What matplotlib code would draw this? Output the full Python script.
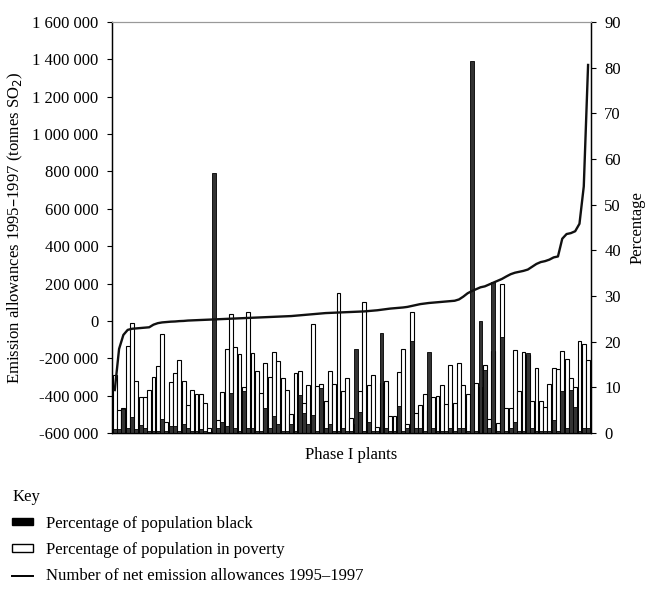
import matplotlib
matplotlib.use("Agg")
import matplotlib.pyplot as plt
import numpy as np
from matplotlib.patches import Patch
from matplotlib.lines import Line2D
from matplotlib.ticker import FuncFormatter, MultipleLocator

plt.rcParams['font.family'] = ['Liberation Serif', 'DejaVu Serif']
plt.rcParams['font.size'] = 12

# percentage of population in poverty, per Phase I plant
poverty = [12.7, 5.0, 5.5, 19.0, 24.0, 11.4, 7.9, 7.9, 9.4, 12.3,
           14.7, 21.7, 2.4, 11.2, 13.1, 16.0, 11.4, 6.1, 9.4, 8.5,
           8.5, 6.6, 1.2, 0.5, 2.9, 9.0, 18.4, 26.0, 18.8, 17.3,
           10.0, 26.5, 17.5, 13.6, 8.8, 15.3, 12.3, 17.7, 15.8, 12.0,
           9.4, 4.2, 13.1, 13.6, 6.6, 10.5, 23.9, 10.2, 10.7, 7.0,
           13.6, 10.7, 30.7, 9.2, 12.0, 3.3, 2.0, 9.2, 28.7, 10.5,
           12.7, 1.3, 11.0, 11.4, 3.7, 3.7, 13.4, 18.4, 2.0, 26.5,
           4.4, 6.1, 8.5, 5.0, 7.9, 8.2, 10.5, 6.4, 14.9, 6.6,
           15.3, 10.5, 8.6, 2.0, 11.0, 10.0, 14.9, 3.0, 18.0, 2.2,
           32.6, 5.5, 5.5, 18.2, 9.2, 17.7, 17.0, 7.0, 14.2, 7.0,
           5.7, 10.7, 14.2, 14.0, 17.9, 16.2, 12.0, 10.0, 20.2, 19.5,
           16.0]

# percentage of population black
black = [0.8, 0.8, 5.2, 1.2, 3.5, 0.8, 1.7, 1.0, 0.5, 0.5,
         0.5, 3.0, 0.5, 1.5, 1.5, 0.5, 2.0, 1.0, 0.5, 0.5,
         0.8, 0.5, 0.3, 57.0, 1.0, 2.4, 1.5, 8.8, 1.0, 0.5,
         9.2, 1.0, 1.0, 0.5, 0.5, 5.5, 1.0, 3.7, 2.0, 0.5,
         0.5, 2.0, 0.5, 8.3, 4.4, 2.0, 4.0, 0.5, 9.9, 1.0,
         2.0, 0.5, 0.5, 1.0, 0.5, 0.5, 18.4, 4.6, 0.5, 2.4,
         0.5, 0.5, 21.9, 1.0, 0.5, 0.5, 5.9, 0.5, 1.0, 20.2,
         1.0, 1.0, 0.5, 17.7, 1.0, 0.5, 0.5, 0.5, 1.0, 0.5,
         1.0, 1.0, 0.5, 81.5, 0.5, 24.5, 13.8, 1.0, 33.0, 0.5,
         21.0, 0.5, 1.0, 2.5, 0.5, 0.5, 17.5, 1.0, 0.5, 0.5,
         0.5, 0.5, 2.8, 0.5, 9.2, 1.0, 9.4, 5.7, 0.5, 1.0,
         1.0]

# net emission allowances 1995-1997, thousand tonnes SO2 (sorted)
allowances_k = [-370, -150, -75, -48, -42, -40, -38, -36, -34, -20,
                -12, -8, -6, -4, -3, -1, 0, 2, 3, 4,
                5, 6, 7, 8, 9, 10, 11, 12, 13, 14,
                15, 16, 17, 18, 19, 20, 21, 22, 23, 24,
                25, 26, 28, 30, 32, 34, 36, 38, 40, 42,
                43, 44, 45, 46, 47, 48, 49, 50, 51, 53,
                55, 57, 60, 63, 66, 68, 70, 72, 75, 80,
                85, 90, 93, 96, 98, 100, 102, 104, 106, 108,
                115, 130, 148, 160, 170, 180, 185, 195, 205, 215,
                225, 238, 250, 258, 263, 268, 275, 290, 305, 315,
                320, 328, 340, 345, 440, 465, 470, 480, 520, 720,
                1370]

x = np.arange(len(poverty))
allowances = np.array(allowances_k) * 1000

fig = plt.figure(figsize=(6.46, 5.91), dpi=100)
ax = fig.add_axes([0.173, 0.2673, 0.742, 0.6955])

ax.bar(x, poverty, width=0.9, color='white', edgecolor='black', linewidth=0.8, zorder=2)
ax.bar(x, black, width=0.9, color='#333333', edgecolor='black', linewidth=0.6, zorder=3)
ax.set_ylim(0, 90)
ax.set_xlim(-0.7, len(x) - 0.3)
ax.set_xticks([])
ax.set_xlabel('Phase I plants', labelpad=10)

ax2 = ax.twinx()
ax2.plot(x, allowances, color='#111111', linewidth=1.7, zorder=5)
ax2.set_ylim(-600000, 1600000)
ax2.yaxis.set_major_locator(MultipleLocator(200000))
ax2.yaxis.set_major_formatter(FuncFormatter(lambda v, p: f'{int(v):,}'.replace(',', ' ')))
ax2.yaxis.tick_left()
ax2.yaxis.set_label_position('left')
ax2.set_ylabel('Emission allowances 1995\u20131997 (tonnes SO$_2$)', labelpad=5)

# twinx moves the original ticks to the left, so put them back on the right
ax.yaxis.tick_right()
ax.yaxis.set_label_position('right')
ax.yaxis.set_major_locator(MultipleLocator(10))
ax.set_ylabel('Percentage', labelpad=6)

for a in (ax, ax2):
    a.spines['top'].set_color('#999999')
    a.tick_params(axis='y', direction='out', length=3.5, width=0.8, pad=6, labelsize=12)
    a.spines['left'].set_linewidth(0.9)
    a.spines['right'].set_linewidth(0.9)
    a.spines['bottom'].set_linewidth(0.9)

handles = [Patch(facecolor='black', edgecolor='black'),
           Patch(facecolor='white', edgecolor='black'),
           Line2D([0], [0], color='black', linewidth=1.4)]
labels = ['Percentage of population black',
          'Percentage of population in poverty',
          'Number of net emission allowances 1995\u20131997']
leg = fig.legend(handles, labels, loc='upper left', bbox_to_anchor=(0.019, 0.172),
                 title='Key', frameon=False, handlelength=1.25, handleheight=0.3,
                 labelspacing=0.62, handletextpad=0.75, alignment='left', fontsize=12,
                 title_fontsize=12, borderaxespad=0, borderpad=0)

fig.savefig('out.png', dpi=100)
